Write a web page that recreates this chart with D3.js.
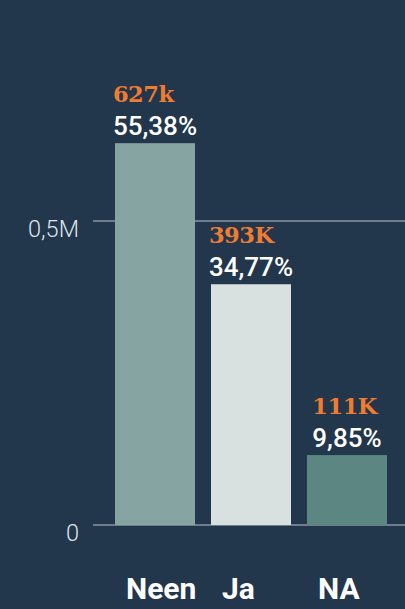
<!DOCTYPE html>
<html>
<head>
<meta charset="utf-8">
<script src="https://cdn.jsdelivr.net/npm/d3@7"></script>
<style>
  html, body { margin: 0; padding: 0; background: #22364c; }
  svg { display: block; }
</style>
</head>
<body>
<svg id="chart" width="405" height="609"></svg>
<script>
const categories = ["Neen", "Ja", "NA"]
// bar heights
const counts = [628000, 396000, 115000]
const countLabels = ["627k", "393K", "111K"]
const shareLabels = ["55,38%", "34,77%", "9,85%"]
const tickValues = [0, 500000]
const tickLabels = ["0", "0,5M"]

const barColors = { "Neen": "#86a4a2", "Ja": "#d8e1e0", "NA": "#5b8682" }

const width = 405, height = 609
const svg = d3.select('#chart')

const x = d3.scaleBand()
  .domain(categories)
  .range([107, 395])
  .paddingInner(1 / 6)
  .paddingOuter(1 / 12)

const y = d3.scaleLinear()
  .domain([0, 500000])
  .range([525, 221])

// gridlines + tick labels
const ticks = svg.append('g').attr('class', 'ticks')
ticks.selectAll('line')
  .data(tickValues)
  .enter()
  .append('line')
  .attr('x1', 93)
  .attr('x2', width)
  .attr('y1', d => y(d))
  .attr('y2', d => y(d))
  .attr('stroke', '#b9c3c9')
  .attr('stroke-width', 1.2)

ticks.selectAll('text')
  .data(tickValues)
  .enter()
  .append('text')
  .attr('x', 79)
  .attr('y', d => y(d) + 16)
  .attr('text-anchor', 'end')
  .attr('fill', '#dfe4e8')
  .style('font-family', 'Roboto')
  .style('font-weight', 300)
  .style('font-size', '23.5px')
  .text((d, i) => tickLabels[i])

const rows = categories.map((c, i) => ({
  cat: c, value: counts[i], countLabel: countLabels[i], share: shareLabels[i]
}))

svg.append('g')
  .selectAll('rect')
  .data(rows)
  .enter()
  .append('rect')
  .attr('x', d => x(d.cat))
  .attr('width', x.bandwidth())
  .attr('y', d => y(d.value))
  .attr('height', d => y(0) - y(d.value))
  .attr('fill', d => barColors[d.cat])

// value labels: share centred on bar, count left-aligned with the share
const labels = svg.append('g')
  .selectAll('g')
  .data(rows)
  .enter()
  .append('g')

labels.each(function (d) {
  const g = d3.select(this)
  const cx = x(d.cat) + x.bandwidth() / 2
  const top = y(d.value)
  const share = g.append('text')
    .attr('x', cx)
    .attr('y', top - 8)
    .attr('text-anchor', 'middle')
    .attr('fill', '#ffffff')
    .style('font-family', 'Roboto')
    .style('font-weight', 500)
    .style('font-size', '26px')
    .text(d.share)
  const w = share.node().getComputedTextLength()
  g.append('text')
    .attr('x', cx - w / 2)
    .attr('y', top - 41)
    .attr('fill', '#f07c30')
    .style('font-family', 'DejaVu Serif')
    .style('font-weight', 'bold')
    .style('font-size', '22.5px')
    .style('letter-spacing', '-0.5px')
    .text(d.countLabel)
})

// category labels
svg.append('g')
  .selectAll('text')
  .data(categories)
  .enter()
  .append('text')
  .attr('x', d => x(d) + 11)
  .attr('y', 599)
  .attr('fill', '#ffffff')
  .style('font-family', 'Roboto')
  .style('font-weight', 'bold')
  .style('font-size', '30px')
  .text(d => d)
</script>
</body>
</html>
